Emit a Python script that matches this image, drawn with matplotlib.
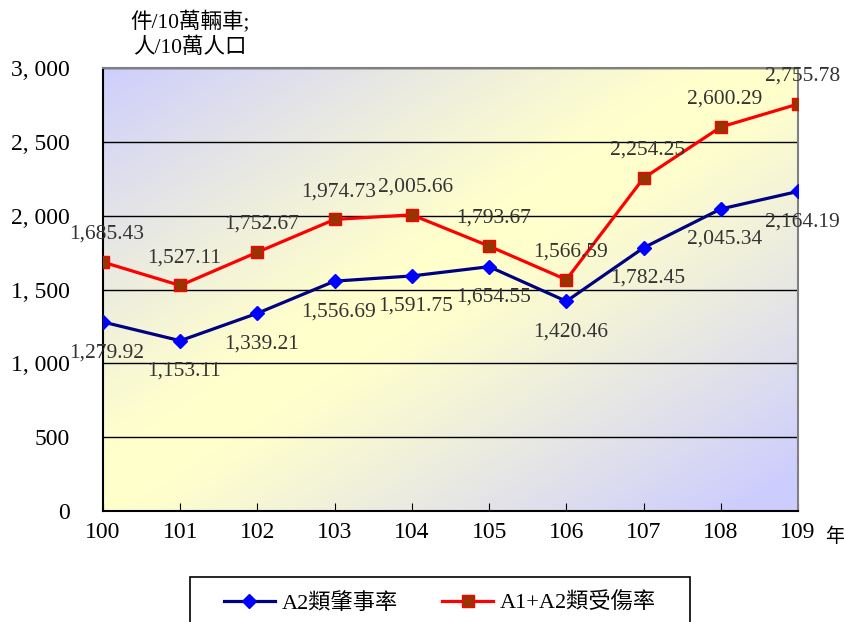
import numpy as np
import matplotlib.pyplot as plt
from matplotlib.patches import Rectangle

plt.rcParams['font.family'] = ['Liberation Serif', 'Noto Sans CJK TC']

years = [100, 101, 102, 103, 104, 105, 106, 107, 108, 109]
a2_rate = [1279.92, 1153.11, 1339.21, 1556.69, 1591.75, 1654.55, 1420.46, 1782.45, 2045.34, 2164.19]
injury_rate = [1685.43, 1527.11, 1752.67, 1974.73, 2005.66, 1793.67, 1566.59, 2254.25, 2600.29, 2755.78]
yticks = [0, 500, 1000, 1500, 2000, 2500, 3000]
ytick_labels = ['0', '500', '1, 000', '1, 500', '2, 000', '2, 500', '3, 000']

fig = plt.figure(figsize=(8.45, 6.22), dpi=100)
ax = fig.add_axes([103/845, 1-511/622, 695/845, 443/622])

# diagonal gradient background: blue corners, yellow band
n = 300
xx, yy = np.meshgrid(np.linspace(0, 1, n), np.linspace(0, 1, n))
w = np.clip((np.abs(xx + yy - 0.95) - 0.08) / 0.9, 0, 1) ** 1.1
blue = np.array([0.80, 0.80, 1.0])
yellow = np.array([1.0, 1.0, 0.80])
img = yellow*(1-w)[..., None] + blue*w[..., None]
ax.imshow(img, extent=[0, 1, 0, 1], transform=ax.transAxes, aspect='auto', zorder=0, origin='upper')

ax.plot(years, a2_rate, color='#000080', lw=2.3, marker='D', markersize=7,
        markerfacecolor='#0000FF', markeredgecolor='#0000FF', label='A2類肇事率', zorder=3)
ax.plot(years, injury_rate, color='#FF0000', lw=2.3, marker='s', markersize=9,
        markerfacecolor='#993300', markeredgecolor='#FF0000', label='A1+A2類受傷率', zorder=3)

for x, y in zip(years, injury_rate):
    ax.annotate(f'{y:,.2f}', (x, y), xytext=(3, 20), textcoords='offset points',
                ha='center', va='center', fontsize=15.5, color='#333333', zorder=4)
for x, y in zip(years, a2_rate):
    ax.annotate(f'{y:,.2f}', (x, y), xytext=(3, -22), textcoords='offset points',
                ha='center', va='center', fontsize=15.5, color='#333333', zorder=4)

ax.set_xlim(100, 109)
ax.set_ylim(0, 3000)
ax.set_xticks(years)
ax.set_xticklabels([str(y) for y in years], fontsize=17)
ax.set_yticks(yticks)
ax.set_yticklabels(ytick_labels, fontsize=17)
ax.tick_params(axis='x', direction='in', length=6, pad=8, color='black')
ax.tick_params(axis='y', length=0, pad=24)
ax.yaxis.grid(True, color='black', lw=1)
ax.set_axisbelow(True)

for side in ['left', 'bottom']:
    ax.spines[side].set_color('black')
    ax.spines[side].set_linewidth(1.5)
for side in ['top', 'right']:
    ax.spines[side].set_color('#808080')
    ax.spines[side].set_linewidth(1.5)

fig.text(190/845, 1-22/622, '件/10萬輛車;', ha='center', va='center', fontsize=15.5)
fig.text(190/845, 1-48/622, '人/10萬人口', ha='center', va='center', fontsize=15.5)
fig.text(835/845, 1-537/622, '年', ha='center', va='center', fontsize=14)

fig.patches.append(Rectangle((190/845, -0.05), 500/845, 0.05 + 45/622, transform=fig.transFigure,
                             facecolor='white', edgecolor='black', lw=1.2))
fig.legend(loc='center', bbox_to_anchor=(440/845, 1-603/622), ncol=2, frameon=False,
           fontsize=16, handlelength=2.3, columnspacing=2.0, handletextpad=0.3)

fig.savefig('out.png', dpi=100)
